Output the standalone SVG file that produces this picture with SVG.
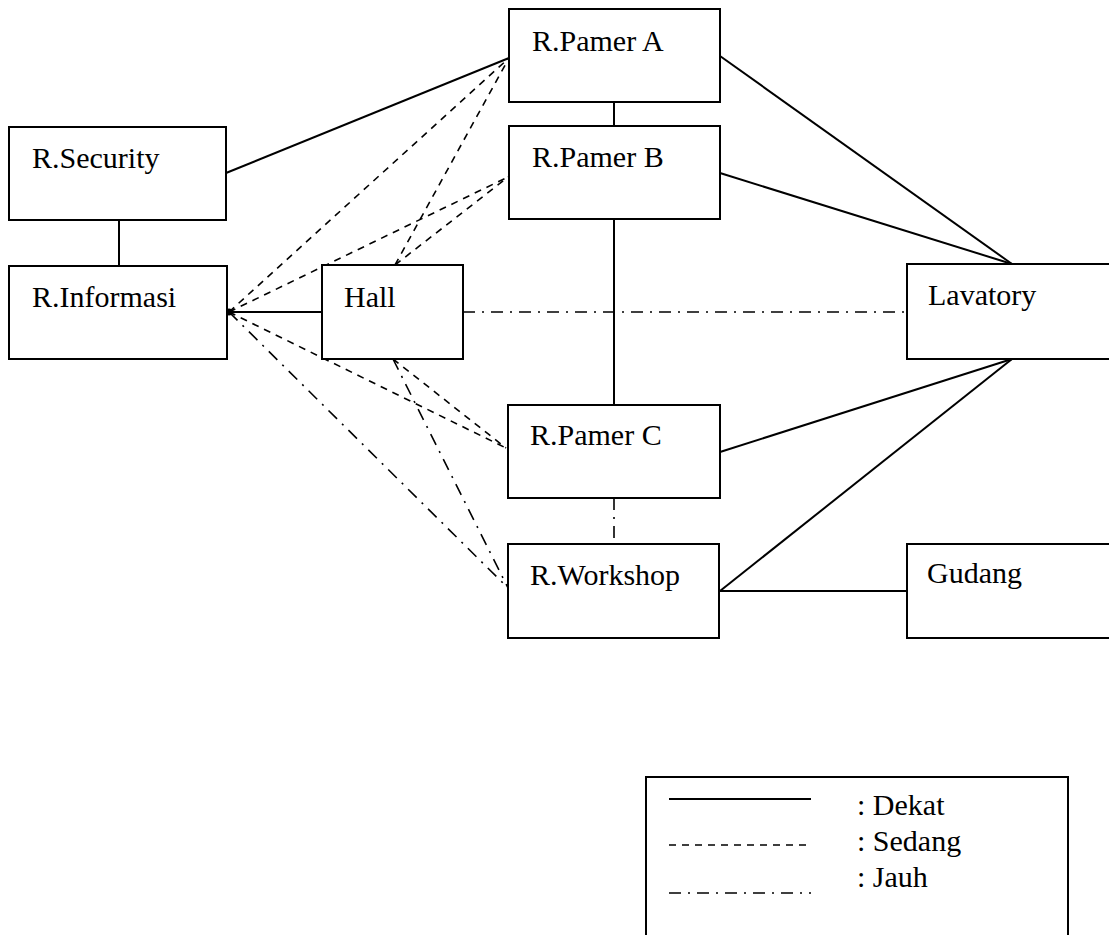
<svg xmlns="http://www.w3.org/2000/svg" width="1109" height="935" viewBox="0 0 1109 935">
<style>
.box{fill:#fff;stroke:#000;stroke-width:2}
.lbl{font-family:"Liberation Serif","Times New Roman",serif;font-size:30px;fill:#000}
.solid{stroke:#000;stroke-width:2;fill:none}
.dash{stroke:#000;stroke-width:1.6;fill:none;stroke-dasharray:7 6}
.dashdot{stroke:#000;stroke-width:1.6;fill:none;stroke-dasharray:12 7 2 7}
</style>
<rect width="1109" height="935" fill="#fff"/>
<g id="connectors">
<line class="solid" x1="226" y1="173" x2="509" y2="58"/>
<line class="solid" x1="119" y1="220" x2="119" y2="266"/>
<line class="solid" x1="614" y1="102" x2="614" y2="126"/>
<line class="solid" x1="614" y1="219" x2="614" y2="405"/>
<line class="solid" x1="229" y1="312" x2="322" y2="312"/>
<line class="solid" x1="720" y1="56" x2="1012" y2="264"/>
<line class="solid" x1="720" y1="173" x2="1012" y2="264"/>
<line class="solid" x1="720" y1="452" x2="1012" y2="359"/>
<line class="solid" x1="720" y1="591" x2="1012" y2="359"/>
<line class="solid" x1="720" y1="591" x2="907" y2="591"/>
<line class="dash" x1="229" y1="312" x2="509" y2="58"/>
<line class="dash" x1="229" y1="312" x2="508" y2="177"/>
<line class="dash" x1="395" y1="265" x2="509" y2="58"/>
<line class="dash" x1="395" y1="265" x2="508" y2="177"/>
<line class="dash" x1="229" y1="312" x2="506" y2="448"/>
<line class="dash" x1="393" y1="359" x2="506" y2="448"/>
<line class="dashdot" x1="463" y1="312" x2="907" y2="312"/>
<line class="dashdot" x1="614" y1="498" x2="614" y2="544"/>
<line class="dashdot" x1="229" y1="312" x2="508" y2="588"/>
<line class="dashdot" x1="393" y1="359" x2="508" y2="588"/>
<circle cx="229" cy="312" r="3.5" fill="#000"/>
</g>
<g id="n-pamer-a"><rect class="box" x="509" y="9" width="211" height="93"/><text class="lbl" x="532" y="51">R.Pamer A</text></g>
<g id="n-pamer-b"><rect class="box" x="509" y="126" width="211" height="93"/><text class="lbl" x="532" y="167">R.Pamer B</text></g>
<g id="n-security"><rect class="box" x="9" y="127" width="217" height="93"/><text class="lbl" x="32" y="168">R.Security</text></g>
<g id="n-informasi"><rect class="box" x="9" y="266" width="218" height="93"/><text class="lbl" x="32" y="307">R.Informasi</text></g>
<g id="n-hall"><rect class="box" x="322" y="265" width="141" height="94"/><text class="lbl" x="344" y="307">Hall</text></g>
<g id="n-lavatory"><rect class="box" x="907" y="264" width="210" height="95"/><text class="lbl" x="928" y="305">Lavatory</text></g>
<g id="n-pamer-c"><rect class="box" x="508" y="405" width="212" height="93"/><text class="lbl" x="530" y="445">R.Pamer C</text></g>
<g id="n-workshop"><rect class="box" x="508" y="544" width="211" height="94"/><text class="lbl" x="530" y="585">R.Workshop</text></g>
<g id="n-gudang"><rect class="box" x="907" y="544" width="210" height="94"/><text class="lbl" x="927" y="583">Gudang</text></g>
<g id="legend">
<path d="M646 945 V777 H1068 V945" fill="none" stroke="#000" stroke-width="2"/>
<line class="solid" x1="669" y1="799" x2="811" y2="799"/>
<line class="dash" x1="669" y1="845" x2="811" y2="845"/>
<line class="dashdot" x1="669" y1="893" x2="811" y2="893"/>
<text class="lbl" x="857" y="815">: Dekat</text>
<text class="lbl" x="857" y="851">: Sedang</text>
<text class="lbl" x="857" y="887">: Jauh</text>
</g>
</svg>
